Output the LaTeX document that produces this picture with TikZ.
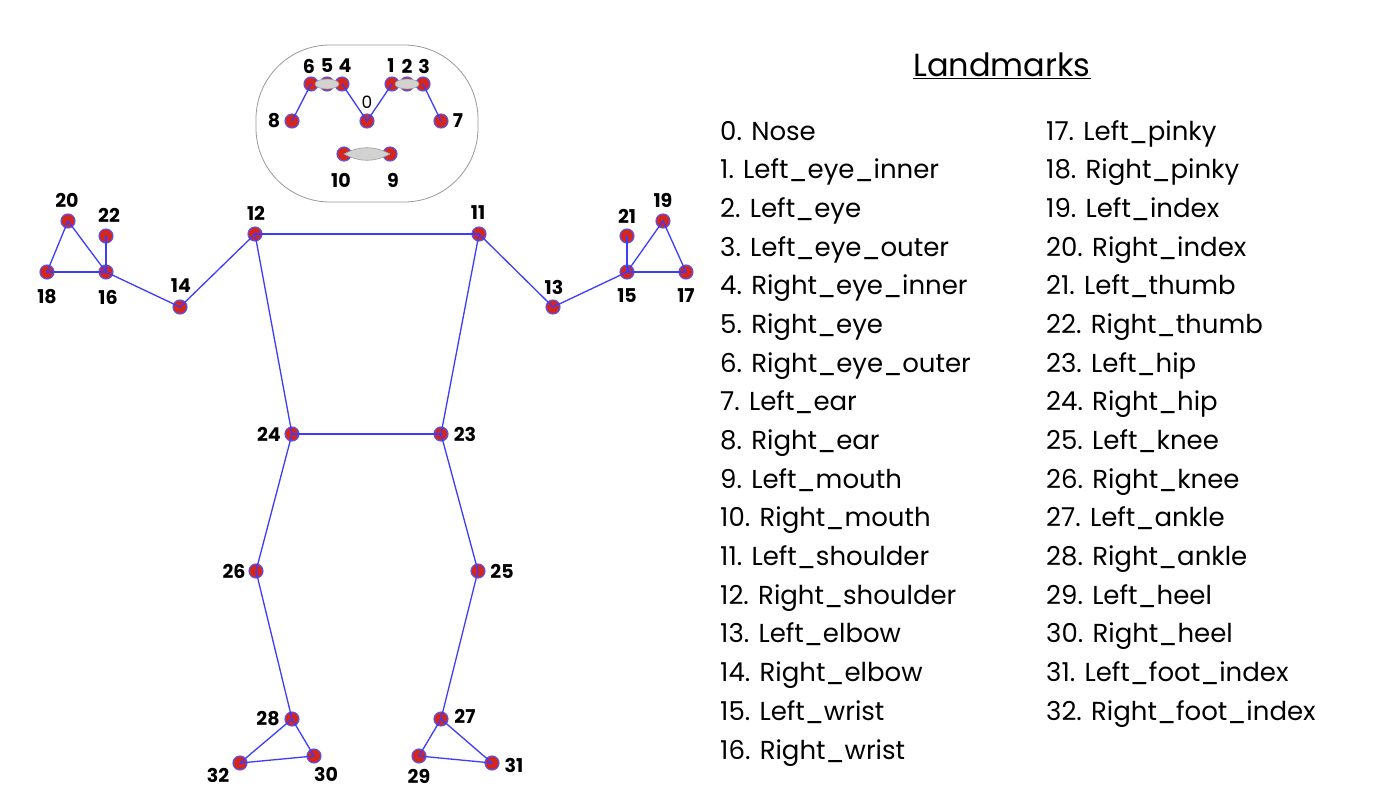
\documentclass[tikz,border=0pt]{standalone}
\usepackage{fontspec}
\setmainfont{Poppins}
\definecolor{bodyblue}{RGB}{60,60,250}
\definecolor{jointred}{RGB}{212,38,30}
\definecolor{jointrim}{RGB}{85,85,240}

\begin{document}
\begin{tikzpicture}[x=1pt, y=-1pt, line join=round, line cap=round,
	joint/.style={circle, inner sep=0pt, minimum size=14pt, fill=jointred, draw=jointrim, line width=1.1pt},
	bone/.style={draw=bodyblue, line width=1.3pt},
	num/.style={inner sep=0pt, font=\fontsize{19}{19}\selectfont\bfseries},
	facepart/.style={fill=gray!35, draw=gray!75, line width=0.6pt},
	entry/.style={anchor=base west, inner sep=0pt, font=\fontsize{26}{26}\selectfont}]
	\fill[white] (0,0) rectangle (1382,800);
	\useasboundingbox (0,0) rectangle (1382,800);
	% head outline
	\draw[gray!80, line width=0.8pt, rounded corners=74pt] (256,45) rectangle (478,202);
	% landmarks
	\foreach \n/\x/\y in {0/367/121, 1/392/84, 2/407/84, 3/423/84, 4/342/84, 5/327/84, 6/311/84,
		7/441/121, 8/292/121, 9/390/154, 10/344/154, 11/479/234, 12/255/234, 13/553/307,
		14/180/307, 15/627/272, 16/106/272, 17/686/272, 18/47/272, 19/663/221, 20/68/221,
		21/627/236, 22/106/236, 23/441/434, 24/292/434, 25/478/571, 26/256/571, 27/441/719,
		28/292/719, 29/419/756, 30/314/756, 31/492/763, 32/240/763}
		\node[joint] (p\n) at (\x,\y) {};
	% skeleton
	\foreach \a/\b in {8/6, 4/0, 0/1, 3/7, 9/10, 11/12, 11/13, 13/15, 15/17, 15/19, 17/19, 15/21,
		12/14, 14/16, 16/18, 16/20, 18/20, 16/22, 11/23, 12/24, 23/24, 23/25, 25/27, 27/29,
		27/31, 29/31, 24/26, 26/28, 28/30, 28/32, 30/32}
		\draw[bone] (p\a.center) -- (p\b.center);
	% eyes and mouth
	\draw[facepart] (p5) ellipse [x radius=12pt, y radius=5pt];
	\draw[facepart] (p2) ellipse [x radius=12pt, y radius=5pt];
	\draw[facepart] (p10.center) to[bend left=28] (p9.center) to[bend left=28] (p10.center);
	% numbers
	\foreach \n/\dx/\dy in {1/-1/-18, 2/0/-18, 3/1/-18, 4/3/-18, 5/0/-18, 6/-2/-18, 7/17/0,
		8/-18/0, 9/3/26, 10/-3/26, 11/-1/-21, 12/1/-21, 13/1/-20, 14/1/-21, 15/0/24, 16/2/25,
		17/0/24, 18/0/25, 19/0/-21, 20/-1/-21, 21/0/-20, 22/3/-21, 23/24/0, 24/-23/0, 25/24/0,
		26/-22/0, 27/24/-3, 28/-24/0, 29/0/20, 30/12/18, 31/22/2, 32/-22/12}
		\node[num] (l\n) at ([shift={(\dx,\dy)}]p\n) {\n};
	\node[inner sep=0pt, font=\fontsize{17}{17}\selectfont] (l0) at ([shift={(0,-19)}]p0) {0};
	% list
	\node[inner sep=0pt, font=\fontsize{32}{32}\selectfont] (title) at (1002,66) {\underline{Landmarks}};
	\foreach \txt [count=\k from 0] in {Nose, Left\_eye\_inner, Left\_eye, Left\_eye\_outer,
		Right\_eye\_inner, Right\_eye, Right\_eye\_outer, Left\_ear, Right\_ear, Left\_mouth,
		Right\_mouth, Left\_shoulder, Right\_shoulder, Left\_elbow, Right\_elbow, Left\_wrist,
		Right\_wrist}
		\node[entry] (t\k) at (720,140+38.69*\k) {\k. \txt};
	\foreach \txt [count=\k from 17] in {Left\_pinky, Right\_pinky, Left\_index, Right\_index,
		Left\_thumb, Right\_thumb, Left\_hip, Right\_hip, Left\_knee, Right\_knee, Left\_ankle,
		Right\_ankle, Left\_heel, Right\_heel, Left\_foot\_index, Right\_foot\_index}
		\node[entry] (t\k) at (1046,140+38.69*\k-38.69*17) {\k. \txt};
\end{tikzpicture}
\end{document}
